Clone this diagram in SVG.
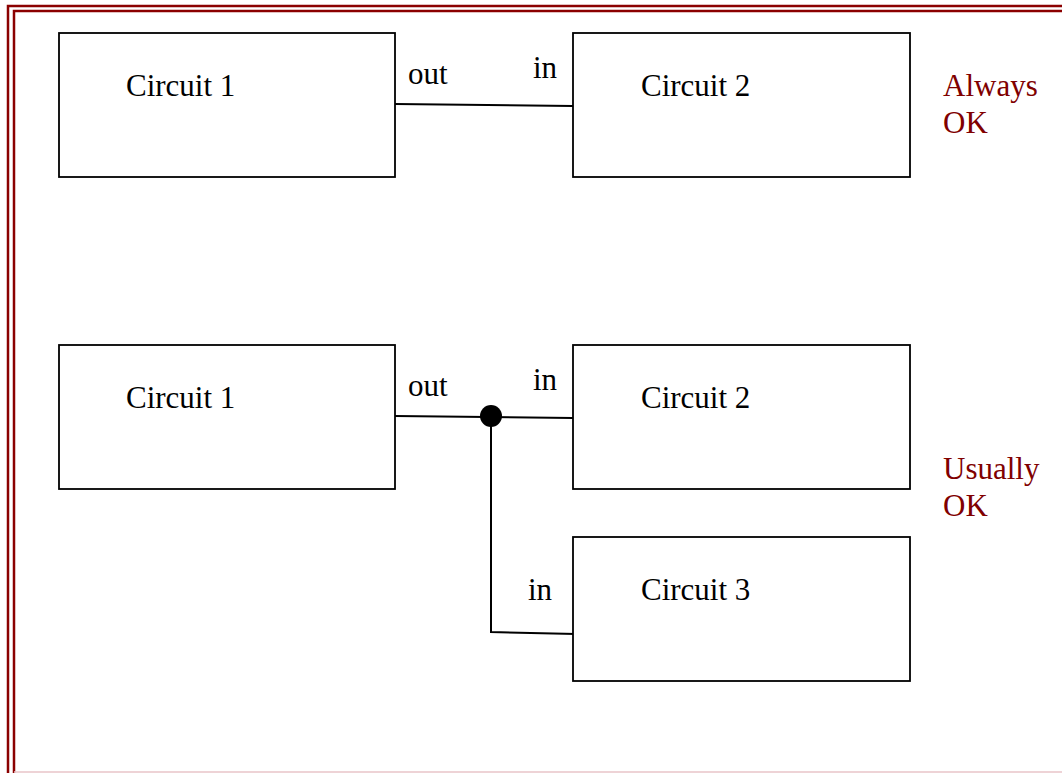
<svg xmlns="http://www.w3.org/2000/svg" width="1062" height="773" viewBox="0 0 1062 773">
<style>
.box{fill:#fff;stroke:#000;stroke-width:1.8}
.w{fill:none;stroke:#000;stroke-width:2}
.t{font-family:"Liberation Serif",serif;font-size:31px;fill:#000}
.r{font-family:"Liberation Serif",serif;font-size:31px;fill:#800000}
.b{fill:none;stroke:#8b0000}
</style>
<rect width="1062" height="773" fill="#fff"/>
<g id="border">
<path class="b" stroke-width="2.5" d="M8,773 V6 H1062"/>
<path class="b" stroke-width="2.5" d="M14,773 V11 H1062"/>
<line x1="14" y1="772" x2="1062" y2="772" stroke="#e8c4c8" stroke-width="1.5"/>
</g>
<g id="connectors">
<line class="w" x1="395" y1="104" x2="573" y2="106"/>
<line class="w" x1="395" y1="416" x2="573" y2="418"/>
<polyline class="w" points="491,416 491,632 576,634"/>
<circle cx="491" cy="416" r="11" fill="#000"/>
</g>
<g id="c1a"><rect class="box" x="59" y="33" width="336" height="144"/><text class="t" x="126" y="96">Circuit 1</text></g>
<g id="c2a"><rect class="box" x="573" y="33" width="337" height="144"/><text class="t" x="641" y="96">Circuit 2</text></g>
<g id="c1b"><rect class="box" x="59" y="345" width="336" height="144"/><text class="t" x="126" y="408">Circuit 1</text></g>
<g id="c2b"><rect class="box" x="573" y="345" width="337" height="144"/><text class="t" x="641" y="408">Circuit 2</text></g>
<g id="c3"><rect class="box" x="573" y="537" width="337" height="144"/><text class="t" x="641" y="600">Circuit 3</text></g>
<g id="labels">
<text class="t" x="408" y="84">out</text>
<text class="t" x="533" y="78">in</text>
<text class="t" x="408" y="396">out</text>
<text class="t" x="533" y="390">in</text>
<text class="t" x="528" y="600">in</text>
<text class="r" x="943" y="96">Always</text>
<text class="r" x="943" y="133">OK</text>
<text class="r" x="943" y="479">Usually</text>
<text class="r" x="943" y="516">OK</text>
</g>
</svg>
